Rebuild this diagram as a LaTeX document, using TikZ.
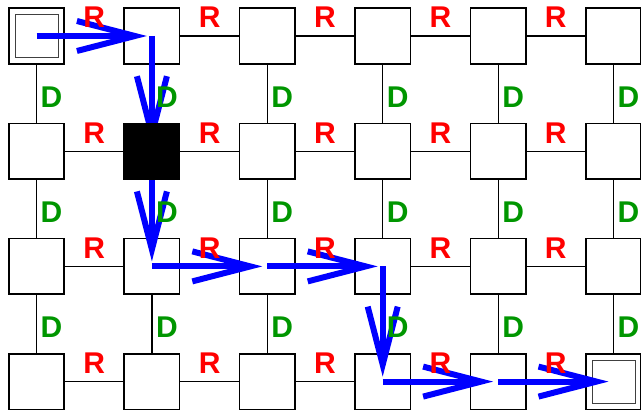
\documentclass[tikz,border=0pt]{standalone}
\usepackage{fontspec}
\setmainfont{Liberation Sans}
\usetikzlibrary{arrows.meta}
\definecolor{dgreen}{RGB}{0,150,0}

\begin{document}
\begin{tikzpicture}[x=1pt, y=-1pt,
    cell/.style={draw, line width=1.6pt, fill=white, minimum size=55.5pt, inner sep=0pt},
    endbox/.style={draw=black!75, line width=1pt, minimum size=43pt, inner sep=0pt},
    link/.style={line width=1.2pt},
    lab/.style={font=\fontsize{30}{36}\selectfont\bfseries, inner sep=0pt},
    rlab/.style={lab, text=red},
    dlab/.style={lab, text=dgreen},
    arr/.style={-{Straight Barb[length=58pt, width=30pt]}, line width=6pt, blue, shorten >=5pt}
]
\useasboundingbox (0,0) rectangle (641,411);

% grid of cells
\foreach \r in {0,...,3}
  \foreach \c in {0,...,5}
    \node[cell] (n\r\c) at (36.5+115.4*\c, 36+115.2*\r) {};

% links
\foreach \r in {0,...,3}
  \foreach \c [count=\d] in {0,...,4}
    \draw[link] (n\r\c) -- (n\r\d);
\foreach \r [count=\s] in {0,1,2}
  \foreach \c in {0,...,5}
    \draw[link] (n\r\c) -- (n\s\c);

% start and goal
\node[endbox] (start) at (n00) {};
\node[endbox] (goal)  at (n35) {};

% path
\draw[arr] (n00.center) -- (n01.center);
\draw[arr] (n01.center) -- (n11.center);
\draw[arr] (n11.center) -- (n21.center);
\draw[arr] (n21.center) -- (n22.center);
\draw[arr] (n22.center) -- (n23.center);
\draw[arr] (n23.center) -- (n33.center);
\draw[arr] (n33.center) -- (n34.center);
\draw[arr] (n34.center) -- (n35.center);

% wall
\node[cell, fill=black] (wall) at (n11) {};

% moves
\foreach \r in {0,...,3}
  \foreach \c in {0,...,4}
    \node[rlab] (r\r\c) at (94.2+115.4*\c, 17.5+115.2*\r) {R};
\foreach \r in {0,1,2}
  \foreach \c in {0,...,5}
    \node[dlab] (d\r\c) at (51.5+115.4*\c, 97+115.2*\r) {D};
\end{tikzpicture}
\end{document}
